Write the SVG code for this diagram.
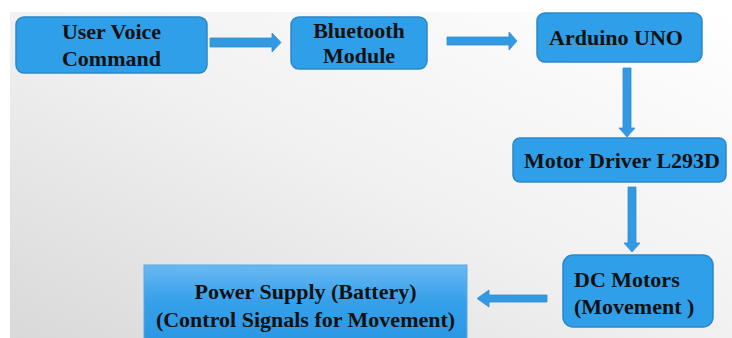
<svg xmlns="http://www.w3.org/2000/svg" width="732" height="338" viewBox="0 0 732 338">
<defs>
<linearGradient id="bg" x1="1" y1="0" x2="0" y2="1">
<stop offset="0" stop-color="#ffffff"/>
<stop offset="0.5" stop-color="#f1f1f1"/>
<stop offset="1" stop-color="#d9d9d9"/>
</linearGradient>
<linearGradient id="ps" x1="0" y1="0" x2="0" y2="1">
<stop offset="0" stop-color="#6ab8f2"/>
<stop offset="0.45" stop-color="#36a0ea"/>
<stop offset="1" stop-color="#2a96e2"/>
</linearGradient>
<style>
.box{fill:#2f9fe9;stroke:#2b88c8;stroke-width:1.5}
.arr{fill:#3399e2;stroke:#2e8dd0;stroke-width:0.8}
</style>
</defs>
<rect width="732" height="338" fill="#ffffff"/>
<rect x="10" y="12" width="722" height="326" fill="url(#bg)"/>
<g id="connectors">
<polygon class="arr" points="210,38 272,38 272,33 281,42.5 272,52 272,47 210,47"/>
<polygon class="arr" points="447,37 509,37 509,32 517,41 509,50 509,45 447,45"/>
<polygon class="arr" points="623,68 631,68 631,128 635,128 627,137 619,128 623,128"/>
<polygon class="arr" points="628,187 636,187 636,243 640,243 632,252 624,243 628,243"/>
<polygon class="arr" points="547,295 489,295 489,290 477,298.5 489,307 489,302 547,302"/>
</g>
<g id="nodes" font-family="Liberation Serif, Times New Roman, serif" font-weight="bold" font-size="22" fill="#111">
<g id="user-voice">
<rect class="box" x="16" y="17" width="191" height="56" rx="8"/>
<text x="111.5" y="39" text-anchor="middle">User Voice</text>
<text x="111.5" y="66" text-anchor="middle">Command</text>
</g>
<g id="bluetooth">
<rect class="box" x="291" y="17" width="136" height="52" rx="8"/>
<text x="359" y="38" text-anchor="middle">Bluetooth</text>
<text x="359" y="63" text-anchor="middle">Module</text>
</g>
<g id="arduino">
<rect class="box" x="537" y="13" width="165" height="49" rx="8"/>
<text x="616" y="45" text-anchor="middle">Arduino UNO</text>
</g>
<g id="motor-driver">
<rect class="box" x="513" y="138" width="213" height="44" rx="7"/>
<text x="622" y="168" text-anchor="middle">Motor Driver L293D</text>
</g>
<g id="dc-motors">
<rect class="box" x="563" y="255" width="150" height="72" rx="10"/>
<text x="574" y="287">DC Motors</text>
<text x="574" y="314">(Movement )</text>
</g>
<g id="power-supply">
<rect x="144" y="265" width="323" height="80" fill="url(#ps)" stroke="#5aa8e0" stroke-width="1"/>
<text x="305.5" y="299" text-anchor="middle">Power Supply (Battery)</text>
<text x="305.5" y="327" text-anchor="middle">(Control Signals for Movement)</text>
</g>
</g>
</svg>
